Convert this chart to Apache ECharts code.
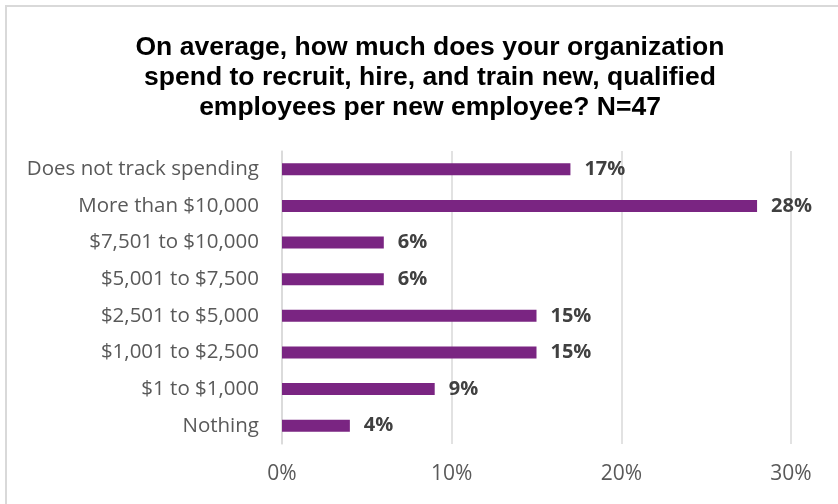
<!DOCTYPE html>
<html>
<head>
<meta charset="utf-8">
<script src="https://cdn.jsdelivr.net/npm/echarts@6/dist/echarts.min.js"></script>
<style>
  html, body { margin: 0; padding: 0; background: #fff; }
  #chart { width: 838px; height: 504px; }
</style>
</head>
<body>
<div id="chart"></div>
<script>
// Spending categories, top to bottom
const categories = [
  'Does not track spending',
  'More than $10,000',
  '$7,501 to $10,000',
  '$5,001 to $7,500',
  '$2,501 to $5,000',
  '$1,001 to $2,500',
  '$1 to $1,000',
  'Nothing'
];
// Share of respondents (%)
const shares = [17, 28, 6, 6, 15, 15, 9, 4];
// Value axis ticks (%)
const axisTicks = [0, 10, 20, 30];

const bodyFont = '"Open Sans", "Noto Sans", sans-serif';

const chart = echarts.init(document.getElementById('chart'), null, { renderer: 'canvas' });

chart.setOption({
  animation: false,
  backgroundColor: '#ffffff',
  title: {
    text: 'On average, how much does your organization\nspend to recruit, hire, and train new, qualified\nemployees per new employee? N=47',
    left: 425,
    top: 28,
    textAlign: 'center',
    textStyle: {
      fontFamily: '"Liberation Sans", Arial, sans-serif',
      fontWeight: 'bold',
      fontSize: 26.5,
      lineHeight: 30,
      color: '#000000'
    }
  },
  graphic: [
    { type: 'line', shape: { x1: 5, y1: 6, x2: 838, y2: 6 }, style: { stroke: '#d9d9d9', lineWidth: 2 } },
    { type: 'line', shape: { x1: 6, y1: 5, x2: 6, y2: 504 }, style: { stroke: '#d9d9d9', lineWidth: 2 } }
  ],
  grid: { left: 282, right: 47, top: 151, bottom: 60, containLabel: false },
  xAxis: {
    type: 'value',
    min: axisTicks[0],
    max: axisTicks[axisTicks.length - 1],
    interval: 10,
    axisLine: { show: false },
    axisTick: { show: false },
    splitLine: { show: true, lineStyle: { color: '#d9d9d9', width: 1.5 } },
    axisLabel: {
      formatter: v => v + '%',
      fontFamily: bodyFont,
      fontSize: 21,
      color: '#595959',
      margin: 20
    }
  },
  yAxis: {
    type: 'category',
    inverse: true,
    data: categories,
    axisLine: { show: true, lineStyle: { color: '#d9d9d9', width: 1.5 } },
    axisTick: { show: false },
    axisLabel: {
      fontFamily: bodyFont,
      fontSize: 20.5,
      color: '#595959',
      margin: 23
    }
  },
  series: [{
    type: 'bar',
    data: shares,
    barWidth: 12,
    itemStyle: { color: '#7a2582' },
    label: {
      show: true,
      position: 'right',
      distance: 14,
      formatter: p => p.value + '%',
      fontFamily: bodyFont,
      fontWeight: 'bold',
      fontSize: 20,
      color: '#404040'
    }
  }]
});
</script>
</body>
</html>
